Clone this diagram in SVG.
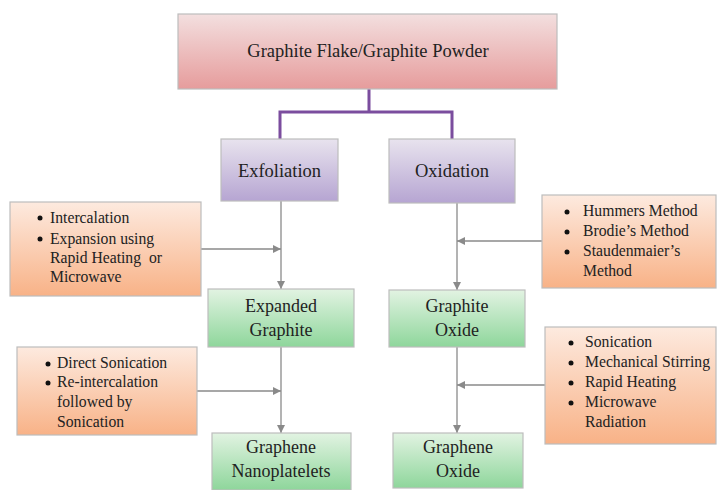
<svg xmlns="http://www.w3.org/2000/svg" width="717" height="490" viewBox="0 0 717 490">
<defs>
<linearGradient id="gPink" x1="0" y1="0" x2="0" y2="1"><stop offset="0" stop-color="#f3dfdf"/><stop offset="1" stop-color="#e69c9c"/></linearGradient>
<linearGradient id="gPurple" x1="0" y1="0" x2="0" y2="1"><stop offset="0" stop-color="#e8e3ee"/><stop offset="1" stop-color="#b6a5d2"/></linearGradient>
<linearGradient id="gGreen" x1="0" y1="0" x2="0" y2="1"><stop offset="0" stop-color="#e2f3e2"/><stop offset="1" stop-color="#8ed69b"/></linearGradient>
<linearGradient id="gOrange" x1="0" y1="0" x2="0" y2="1"><stop offset="0" stop-color="#fdeadf"/><stop offset="1" stop-color="#f8b287"/></linearGradient>
<marker id="arr" viewBox="0 0 10 10" refX="10" refY="5" markerWidth="8" markerHeight="8" markerUnits="userSpaceOnUse" orient="auto"><path d="M0,0 L10,5 L0,10 Z" fill="#8a8a8a"/></marker>
<style>
.box{stroke:#bdbdbd;stroke-width:1.2}
.t{font-family:"Liberation Serif","Times New Roman",serif;fill:#222;text-anchor:middle}
.big{font-size:18.5px}
.mid{font-size:18px}
.b{font-family:"Liberation Serif","Times New Roman",serif;fill:#222;font-size:15.7px}
.conn{stroke:#8a8a8a;stroke-width:1.3;fill:none}
.pur{stroke:#7b4d9e;stroke-width:3;fill:none}
</style>
</defs>
<g id="connectors">
<path class="pur" d="M369,89 V112 M280,112 H453 M280,110.5 V139 M452,110.5 V139"/>
<line class="conn" x1="281" y1="201" x2="281" y2="289" marker-end="url(#arr)"/>
<line class="conn" x1="201" y1="249" x2="281" y2="249" marker-end="url(#arr)"/>
<line class="conn" x1="281" y1="347" x2="281" y2="433" marker-end="url(#arr)"/>
<line class="conn" x1="197" y1="391" x2="281" y2="391" marker-end="url(#arr)"/>
<line class="conn" x1="457" y1="203" x2="457" y2="290" marker-end="url(#arr)"/>
<line class="conn" x1="542" y1="241" x2="457" y2="241" marker-end="url(#arr)"/>
<line class="conn" x1="457" y1="347" x2="457" y2="433" marker-end="url(#arr)"/>
<line class="conn" x1="545" y1="385" x2="457" y2="385" marker-end="url(#arr)"/>
</g>
<g id="graphite">
<rect class="box" x="178" y="14" width="379" height="75" fill="url(#gPink)"/>
<text class="t big" x="368" y="57">Graphite Flake/Graphite Powder</text>
</g>
<g id="exfoliation">
<rect class="box" x="221" y="139" width="117" height="62" fill="url(#gPurple)"/>
<text class="t big" x="279.5" y="177">Exfoliation</text>
</g>
<g id="oxidation">
<rect class="box" x="389" y="139" width="126" height="64" fill="url(#gPurple)"/>
<text class="t big" x="452" y="177">Oxidation</text>
</g>
<g id="exf-methods">
<rect class="box" x="10" y="202" width="191" height="94" fill="url(#gOrange)"/>
<circle cx="40" cy="218" r="2.5" fill="#111"/>
<circle cx="40" cy="239" r="2.5" fill="#111"/>
<text class="b" x="50" y="223">Intercalation</text>
<text class="b" x="50" y="244">Expansion using</text>
<text class="b" x="50" y="263" xml:space="preserve">Rapid Heating  or</text>
<text class="b" x="50" y="282">Microwave</text>
</g>
<g id="ox-methods">
<rect class="box" x="542" y="195" width="174" height="93" fill="url(#gOrange)"/>
<circle cx="567" cy="212" r="2.5" fill="#111"/>
<circle cx="567" cy="232" r="2.5" fill="#111"/>
<circle cx="567" cy="252" r="2.5" fill="#111"/>
<text class="b" x="583" y="216">Hummers Method</text>
<text class="b" x="583" y="236">Brodie’s Method</text>
<text class="b" x="583" y="256">Staudenmaier’s</text>
<text class="b" x="583" y="276">Method</text>
</g>
<g id="expanded">
<rect class="box" x="208" y="289" width="146" height="58" fill="url(#gGreen)"/>
<text class="t mid" x="281" y="312">Expanded</text>
<text class="t mid" x="281" y="336">Graphite</text>
</g>
<g id="graphite-oxide">
<rect class="box" x="389" y="290" width="136" height="57" fill="url(#gGreen)"/>
<text class="t mid" x="457" y="312">Graphite</text>
<text class="t mid" x="457" y="336">Oxide</text>
</g>
<g id="exp-methods">
<rect class="box" x="17" y="347" width="180" height="88" fill="url(#gOrange)"/>
<circle cx="48" cy="364" r="2.5" fill="#111"/>
<circle cx="48" cy="383" r="2.5" fill="#111"/>
<text class="b" x="57" y="368">Direct Sonication</text>
<text class="b" x="57" y="387">Re-intercalation</text>
<text class="b" x="57" y="407">followed by</text>
<text class="b" x="57" y="427">Sonication</text>
</g>
<g id="go-methods">
<rect class="box" x="545" y="327" width="171" height="117" fill="url(#gOrange)"/>
<circle cx="571" cy="343" r="2.5" fill="#111"/>
<circle cx="571" cy="363" r="2.5" fill="#111"/>
<circle cx="571" cy="383" r="2.5" fill="#111"/>
<circle cx="571" cy="403" r="2.5" fill="#111"/>
<text class="b" x="585" y="347">Sonication</text>
<text class="b" x="585" y="367">Mechanical Stirring</text>
<text class="b" x="585" y="387">Rapid Heating</text>
<text class="b" x="585" y="407">Microwave</text>
<text class="b" x="585" y="427">Radiation</text>
</g>
<g id="gnp">
<rect class="box" x="212" y="433" width="139" height="57" fill="url(#gGreen)"/>
<text class="t mid" x="281" y="453">Graphene</text>
<text class="t mid" x="281" y="477">Nanoplatelets</text>
</g>
<g id="graphene-oxide">
<rect class="box" x="393" y="433" width="130" height="55" fill="url(#gGreen)"/>
<text class="t mid" x="458" y="453">Graphene</text>
<text class="t mid" x="458" y="477">Oxide</text>
</g>
</svg>
